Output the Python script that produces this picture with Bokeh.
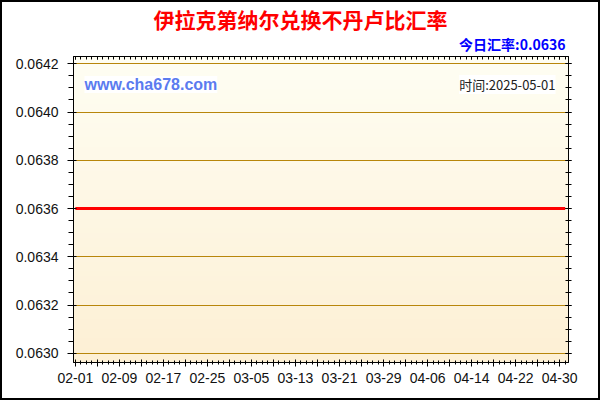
import numpy as np
import pandas as pd
from bokeh.plotting import figure
from bokeh.models import (FixedTicker, LinearAxis, Label, PrintfTickFormatter, Range1d,
                          CustomJSTickFormatter, Title, InlineStyleSheet)
from bokeh.embed import file_html
from bokeh.resources import INLINE

# ---- data ----
dates = list(pd.date_range("2025-02-01", "2025-05-01", freq="D"))
rates = [0.0636] * len(dates)
y_ticks = [0.0630, 0.0632, 0.0634, 0.0636, 0.0638, 0.0640, 0.0642]
title_text = "伊拉克第纳尔兑换不丹卢比汇率"
today_text = "今日汇率:0.0636"
site_text = "www.cha678.com"
time_text = "时间:2025-05-01"

start = dates[0]
xs = [(d - start).days for d in dates]

x0, x1 = -0.33, 89.6
y0, y1 = 0.062962, 0.064230

p = figure(width=600, height=400, output_backend="svg", toolbar_location=None,
           x_range=Range1d(x0, x1), y_range=Range1d(y0, y1),
           min_border_left=73, min_border_right=32, min_border_top=56, min_border_bottom=38,
           x_axis_location=None, y_axis_location=None)
p.background_fill_color = "white"
p.border_fill_color = "white"
p.outline_line_color = "black"
p.outline_line_width = 1
p.stylesheets = [InlineStyleSheet(css=":host { position: relative; } "
                                      ":host::after { content: ''; position: absolute; left: 0; top: 0; "
                                      "right: 0; bottom: 0; border: 2px solid black; "
                                      "pointer-events: none; z-index: 100; }")]

# main title
p.title.text = title_text
p.title.align = "left"
p.title.offset = 80
p.title.text_font = "Noto Sans CJK SC"
p.title.text_font_style = "bold"
p.title.text_font_size = "21px"
p.title.text_color = "#FF0000"
p.title.standoff = -8

# gradient background
n = 64
grad = np.zeros((n, 1), dtype=np.uint32)
view = grad.view(dtype=np.uint8).reshape((n, 1, 4))
top = np.array([255, 254, 243])
bot = np.array([253, 240, 213])
for i in range(n):
    t = i / (n - 1)  # 0 bottom, 1 top
    c = bot + (top - bot) * t
    view[i, 0, 0] = int(c[0]); view[i, 0, 1] = int(c[1]); view[i, 0, 2] = int(c[2]); view[i, 0, 3] = 255
img = p.image_rgba(image=[grad], x=x0, y=y0, dw=x1 - x0, dh=y1 - y0, level="image")

# ticks
major_x = [d for d in range(0, 90, 4)]
minor_x = list(range(0, 90))
labels = {}
for d in major_x:
    labels[d] = (start + pd.Timedelta(days=d)).strftime("%m-%d") if d % 8 == 0 else ""
xt = FixedTicker(ticks=major_x, minor_ticks=minor_x)
yminor = [round(0.0630 + 0.00005 * i, 6) for i in range(-1, 26)]
yt = FixedTicker(ticks=y_ticks, minor_ticks=yminor)
blank = CustomJSTickFormatter(code="return ''")

font = "Liberation Sans"

xb = LinearAxis(ticker=xt, major_label_overrides=labels)
xb.major_tick_in = 3; xb.major_tick_out = 4
xb.minor_tick_in = 2; xb.minor_tick_out = 2
xb.major_label_standoff = 6
xb.major_label_text_font = font
xb.major_label_text_font_size = "14px"
xb.major_label_text_color = "#111111"
xb.axis_line_color = "black"
p.add_layout(xb, "below")

xtop = LinearAxis(ticker=xt, formatter=blank)
xtop.major_tick_in = 3; xtop.major_tick_out = 0
xtop.minor_tick_in = 3; xtop.minor_tick_out = 0
xtop.major_label_standoff = 0
p.add_layout(xtop, "above")

# today's rate line under the title
t2 = Title(text=today_text, align="right", offset=3, text_font="Noto Sans CJK SC",
           text_font_style="bold", text_font_size="14px", text_color="#0000FF", standoff=5)
p.add_layout(t2, "above")

yl = LinearAxis(ticker=yt, formatter=PrintfTickFormatter(format="%.4f"))
yl.major_tick_in = 3; yl.major_tick_out = 6
yl.minor_tick_in = 0; yl.minor_tick_out = 5
yl.major_label_standoff = 9
yl.major_label_text_font = font
yl.major_label_text_font_size = "14px"
yl.major_label_text_color = "#111111"
p.add_layout(yl, "left")

yr = LinearAxis(ticker=yt, formatter=blank)
yr.major_tick_in = 3; yr.major_tick_out = 3
yr.minor_tick_in = 3; yr.minor_tick_out = 3
yr.major_label_standoff = 0
p.add_layout(yr, "right")

p.xgrid.visible = False
p.ygrid.ticker = yt
p.ygrid.grid_line_color = "#B8860B"
p.ygrid.grid_line_width = 1
p.ygrid.minor_grid_line_color = None

p.line(xs, rates, line_color="#FF0000", line_width=3)

# in-frame labels: screen units are relative to the frame's bottom-left corner
p.add_layout(Label(x=11, y=278, x_units="screen", y_units="screen", text=site_text,
                   text_align="left", text_baseline="middle", text_font=font,
                   text_font_style="bold", text_font_size="16px", text_color="#5B7BEF",
                   background_fill_color="white"))
p.add_layout(Label(x=482, y=278, x_units="screen", y_units="screen", text=time_text,
                   text_align="right", text_baseline="middle", text_font="Noto Sans CJK SC",
                   text_font_size="13px", text_color="#222222",
                   background_fill_color="white"))

open("out.html", "w").write(file_html(p, INLINE))
